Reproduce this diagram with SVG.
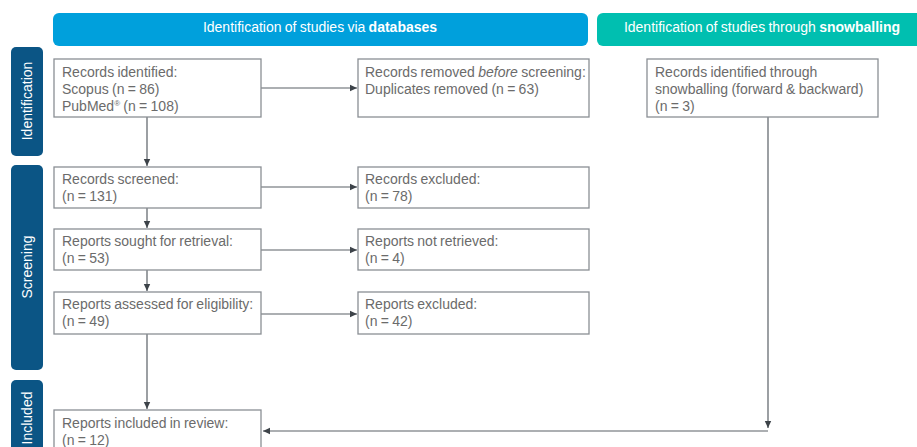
<svg xmlns="http://www.w3.org/2000/svg" width="917" height="447" viewBox="0 0 917 447">
<defs>
<style>
.box{fill:#fff;stroke:#8a8f94;stroke-width:1.3}
.t{font-family:"Liberation Sans",Arial,sans-serif;font-size:14px;fill:#6b6b6b;word-spacing:-0.6px}
.h{font-family:"Liberation Sans",Arial,sans-serif;font-size:14px;fill:#fff;text-anchor:middle;word-spacing:-0.6px}
.side{fill:#0b5585}
.c{stroke:#5a6066;stroke-width:1.2;fill:none}
</style>
<marker id="ah" markerWidth="8" markerHeight="8" refX="7" refY="4" orient="auto" markerUnits="userSpaceOnUse">
<path d="M0,0.8 L7,4 L0,7.2 Z" fill="#3d4349"/>
</marker>
</defs>
<rect width="917" height="447" fill="#fff"/>

<g id="header-databases">
<rect x="53" y="13" width="535" height="33" rx="6" fill="#00a0dc"/>
<text class="h" x="320" y="32">Identification of studies via <tspan font-weight="bold">databases</tspan></text>
</g>
<g id="header-snowballing">
<rect x="597" y="13" width="340" height="33" rx="6" fill="#00bfb0"/>
<text class="h" x="762" y="32">Identification of studies through <tspan font-weight="bold">snowballing</tspan></text>
</g>

<g id="phase-identification">
<rect class="side" x="11" y="47" width="32" height="109" rx="5"/>
<text class="h" transform="translate(32,101) rotate(-90)">Identification</text>
</g>
<g id="phase-screening">
<rect class="side" x="11" y="165" width="32" height="205" rx="5"/>
<text class="h" transform="translate(32,267) rotate(-90)">Screening</text>
</g>
<g id="phase-included">
<rect class="side" x="11" y="380" width="32" height="90" rx="5"/>
<text class="h" transform="translate(32,418) rotate(-90)">Included</text>
</g>

<g id="connectors">
<line class="c" x1="261" y1="88" x2="357" y2="88" marker-end="url(#ah)"/>
<line class="c" x1="147" y1="117" x2="147" y2="166" marker-end="url(#ah)"/>
<line class="c" x1="261" y1="187" x2="357" y2="187" marker-end="url(#ah)"/>
<line class="c" x1="147" y1="208" x2="147" y2="228" marker-end="url(#ah)"/>
<line class="c" x1="261" y1="250" x2="357" y2="250" marker-end="url(#ah)"/>
<line class="c" x1="147" y1="270" x2="147" y2="291" marker-end="url(#ah)"/>
<line class="c" x1="261" y1="314" x2="357" y2="314" marker-end="url(#ah)"/>
<line class="c" x1="147" y1="334" x2="147" y2="409" marker-end="url(#ah)"/>
<line class="c" x1="768" y1="117" x2="768" y2="428" marker-end="url(#ah)"/>
<line class="c" x1="768" y1="431" x2="263" y2="431" marker-end="url(#ah)"/>
</g>

<g id="records-identified">
<rect class="box" x="54" y="59" width="207" height="58"/>
<text class="t" x="62" y="77">Records identified:</text>
<text class="t" x="62" y="94">Scopus (n = 86)</text>
<text class="t" x="62" y="111">PubMed<tspan font-size="8" dy="-5">®</tspan><tspan dy="5"> (n = 108)</tspan></text>
</g>
<g id="records-removed">
<rect class="box" x="358" y="59" width="231" height="58"/>
<text class="t" x="365" y="77">Records removed <tspan font-style="italic">before</tspan> screening:</text>
<text class="t" x="365" y="94">Duplicates removed (n = 63)</text>
</g>
<g id="records-snowballing">
<rect class="box" x="647" y="59" width="231" height="58"/>
<text class="t" x="655" y="77">Records identified through</text>
<text class="t" x="655" y="94">snowballing (forward &amp; backward)</text>
<text class="t" x="655" y="111">(n = 3)</text>
</g>
<g id="records-screened">
<rect class="box" x="54" y="167" width="207" height="41"/>
<text class="t" x="62" y="184">Records screened:</text>
<text class="t" x="62" y="201">(n = 131)</text>
</g>
<g id="records-excluded">
<rect class="box" x="358" y="167" width="231" height="41"/>
<text class="t" x="365" y="184">Records excluded:</text>
<text class="t" x="365" y="201">(n = 78)</text>
</g>
<g id="reports-sought">
<rect class="box" x="54" y="229" width="207" height="41"/>
<text class="t" x="62" y="246">Reports sought for retrieval:</text>
<text class="t" x="62" y="263">(n = 53)</text>
</g>
<g id="reports-not-retrieved">
<rect class="box" x="358" y="229" width="231" height="41"/>
<text class="t" x="365" y="246">Reports not retrieved:</text>
<text class="t" x="365" y="263">(n = 4)</text>
</g>
<g id="reports-assessed">
<rect class="box" x="54" y="292" width="207" height="42"/>
<text class="t" x="62" y="309">Reports assessed for eligibility:</text>
<text class="t" x="62" y="326">(n = 49)</text>
</g>
<g id="reports-excluded">
<rect class="box" x="358" y="292" width="231" height="42"/>
<text class="t" x="365" y="309">Reports excluded:</text>
<text class="t" x="365" y="326">(n = 42)</text>
</g>
<g id="reports-included">
<rect class="box" x="54" y="410" width="207" height="50"/>
<text class="t" x="62" y="428">Reports included in review:</text>
<text class="t" x="62" y="445">(n = 12)</text>
</g>
</svg>
